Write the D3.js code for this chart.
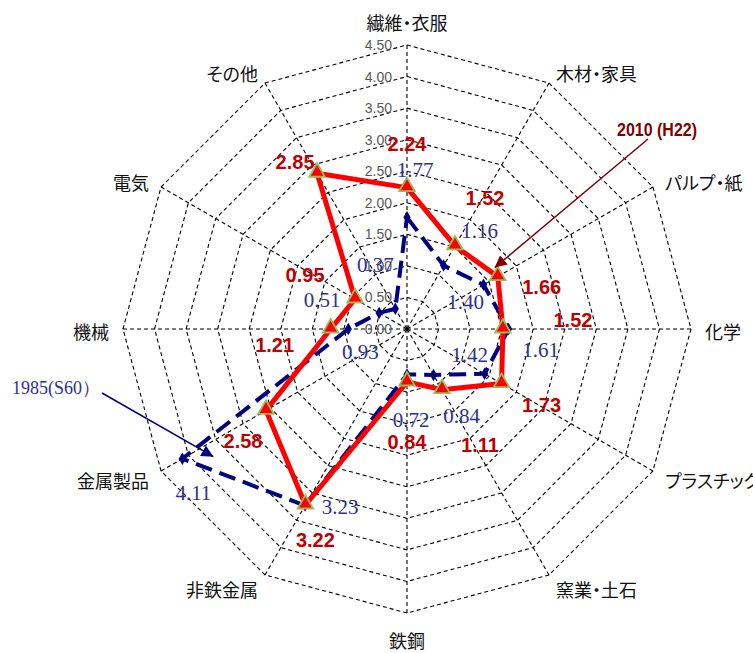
<!DOCTYPE html>
<html><head><meta charset="utf-8">
<script src="https://cdn.jsdelivr.net/npm/d3@7"></script>
<style>
html,body{margin:0;padding:0;background:#fff;}
svg{display:block;}
</style></head>
<body><svg id="chart" width="753" height="653"></svg>
<script>
// ---- data ----
const categories = ["繊維・衣服","木材・家具","パルプ・紙","化学","プラスチック","窯業・土石","鉄鋼","非鉄金属","金属製品","機械","電気","その他"];
const values1985 = [1.77,1.16,1.40,1.61,1.42,0.84,0.72,3.23,4.11,0.93,0.51,0.37];
const values2010 = [2.24,1.52,1.66,1.52,1.73,1.11,0.84,3.22,2.58,1.21,0.95,2.85];
const tickValues = [0,0.5,1,1.5,2,2.5,3,3.5,4,4.5];
const seriesNames = ["1985(S60）","2010 (H22)"];

// ---- layout (label offsets, px, relative to each point) ----
const off2010 = [[0,-44],[30,-48],[44,10],[70,-9],[40,21],[38,55],[0,60],[10,35],[-23,31],[-56,16],[-50,-24],[-22,-11]];
const off1985 = [[8,-47],[36,-35],[-18,17],[32,21],[-15,-19],[28,41],[4,46],[35,1],[11,34],[12,23],[-57,-13],[-20,-44]];

const W = 753, H = 653, cx = 407, cy = 329, R = 284;
const svg = d3.select("#chart");
const g = svg.append("g").attr("transform", `translate(${cx},${cy})`);

const r = d3.scaleLinear().domain([0, 4.5]).range([0, R]);
const ang = d3.scaleLinear().domain([0, categories.length]).range([0, 2 * Math.PI]);
const px = (i, v) => r(v) * Math.sin(ang(i));
const py = (i, v) => -r(v) * Math.cos(ang(i));

// grid rings
const ring = d3.lineRadial().curve(d3.curveLinearClosed);
g.append("g").selectAll("path").data(tickValues.filter(t => t > 0)).join("path")
  .attr("d", t => ring(categories.map((c, i) => [ang(i), r(t)])))
  .attr("fill", "none").attr("stroke", "#000").attr("stroke-width", 1.1)
  .attr("stroke-dasharray", "4,3");
// spokes
g.append("g").selectAll("line").data(categories).join("line")
  .attr("x1", 0).attr("y1", 0)
  .attr("x2", (d, i) => px(i, 4.5)).attr("y2", (d, i) => py(i, 4.5))
  .attr("stroke", "#000").attr("stroke-width", 1.1).attr("stroke-dasharray", "4,3");

// tick labels
g.append("g").selectAll("text").data(tickValues).join("text")
  .attr("x", -15).attr("y", t => -r(t))
  .attr("text-anchor", "end").attr("dominant-baseline", "central")
  .attr("font-family", "Liberation Sans, Arial, sans-serif").attr("font-size", 14)
  .attr("fill", "#595959").text(d3.format(".2f"));

// category labels
const pad = 14;
g.append("g").selectAll("text").data(categories).join("text")
  .attr("x", (d, i) => (R + pad) * Math.sin(ang(i)))
  .attr("y", (d, i) => {
    const s = Math.sin(ang(i)), c = Math.cos(ang(i));
    let y = -(R + pad) * c + 2;
    if (Math.abs(s) < 0.1) y += (c > 0 ? -11 : 11);
    return y;
  })
  .attr("text-anchor", (d, i) => { const s = Math.sin(ang(i)); return s > 0.1 ? "start" : (s < -0.1 ? "end" : "middle"); })
  .attr("dominant-baseline", "central")
  .attr("font-family", "Noto Sans CJK JP, sans-serif").attr("font-size", 18)
  .style("font-feature-settings", "'palt'")
  .attr("fill", "#111").text(d => d);

// series lines
const line = d3.lineRadial().curve(d3.curveLinearClosed);
g.append("path")
  .attr("d", line(values1985.map((v, i) => [ang(i), r(v)])))
  .attr("fill", "none").attr("stroke", "#000080").attr("stroke-width", 4)
  .attr("stroke-dasharray", "17,8");
g.append("g").selectAll("path").data(values1985).join("path")
  .attr("transform", (v, i) => `translate(${px(i, v)},${py(i, v)})`)
  .attr("d", d3.symbol(d3.symbolDiamond, 45)).attr("fill", "#000080");

g.append("path")
  .attr("d", line(values2010.map((v, i) => [ang(i), r(v)])))
  .attr("fill", "none").attr("stroke", "#ff0000").attr("stroke-width", 5)
  .attr("stroke-linejoin", "round");
g.append("g").selectAll("path").data(values2010).join("path")
  .attr("transform", (v, i) => `translate(${px(i, v)},${py(i, v) - 1})`)
  .attr("d", d3.symbol(d3.symbolTriangle, 105)).attr("fill", "#ff0000")
  .attr("stroke", "#9bbb59").attr("stroke-width", 1.8);

// data labels
g.append("g").selectAll("text").data(values1985).join("text")
  .attr("x", (v, i) => px(i, v) + off1985[i][0]).attr("y", (v, i) => py(i, v) + off1985[i][1])
  .attr("text-anchor", "middle").attr("dominant-baseline", "central")
  .attr("font-family", "Liberation Serif, DejaVu Serif, serif").attr("font-size", 21)
  .attr("fill", "#2e3192").text(d3.format(".2f"));
g.append("g").selectAll("text").data(values2010).join("text")
  .attr("x", (v, i) => px(i, v) + off2010[i][0]).attr("y", (v, i) => py(i, v) + off2010[i][1])
  .attr("text-anchor", "middle").attr("dominant-baseline", "central")
  .attr("font-family", "Liberation Sans, Arial, sans-serif").attr("font-size", 20).attr("font-weight", "bold")
  .attr("fill", "#c00000").text(d3.format(".2f"));

// annotations
const defs = svg.append("defs");
function arrowMarker(id, color) {
  defs.append("marker").attr("id", id).attr("viewBox", "0 0 10 10")
    .attr("refX", 10).attr("refY", 5).attr("markerWidth", 8).attr("markerHeight", 8)
    .attr("markerUnits", "strokeWidth").attr("orient", "auto")
    .append("path").attr("d", "M0,0 L10,5 L0,10 Z").attr("fill", color);
}
arrowMarker("arrRed", "#800000");
arrowMarker("arrBlue", "#000080");

// 2010 label + arrow pointing at the パルプ・紙 2010 point
const p2 = [cx + px(2, values2010[2]), cy + py(2, values2010[2])];
svg.append("line").attr("x1", 648).attr("y1", 139).attr("x2", p2[0] - 3).attr("y2", p2[1] - 9)
  .attr("stroke", "#800000").attr("stroke-width", 1.5).attr("marker-end", "url(#arrRed)");
svg.append("text").attr("x", 617).attr("y", 130).attr("dominant-baseline", "central")
  .attr("font-family", "Liberation Sans Narrow, Liberation Sans, Arial, sans-serif")
  .attr("font-weight", "bold").attr("font-size", 18).attr("fill", "#800000")
  .attr("textLength", 80).attr("lengthAdjust", "spacingAndGlyphs").text(seriesNames[1]);

// 1985 label + arrow pointing at the 金属製品 1985 point
const p8 = [cx + px(8, values1985[8]), cy + py(8, values1985[8])];
svg.append("line").attr("x1", 102).attr("y1", 393).attr("x2", p8[0] + 31).attr("y2", p8[1] - 2)
  .attr("stroke", "#000080").attr("stroke-width", 1.5).attr("marker-end", "url(#arrBlue)");
svg.append("text").attr("x", 12).attr("y", 388).attr("dominant-baseline", "central")
  .attr("font-family", "Liberation Serif, DejaVu Serif, serif").attr("font-size", 18)
  .attr("fill", "#2e3192").text(seriesNames[0]);
</script>
</body></html>
